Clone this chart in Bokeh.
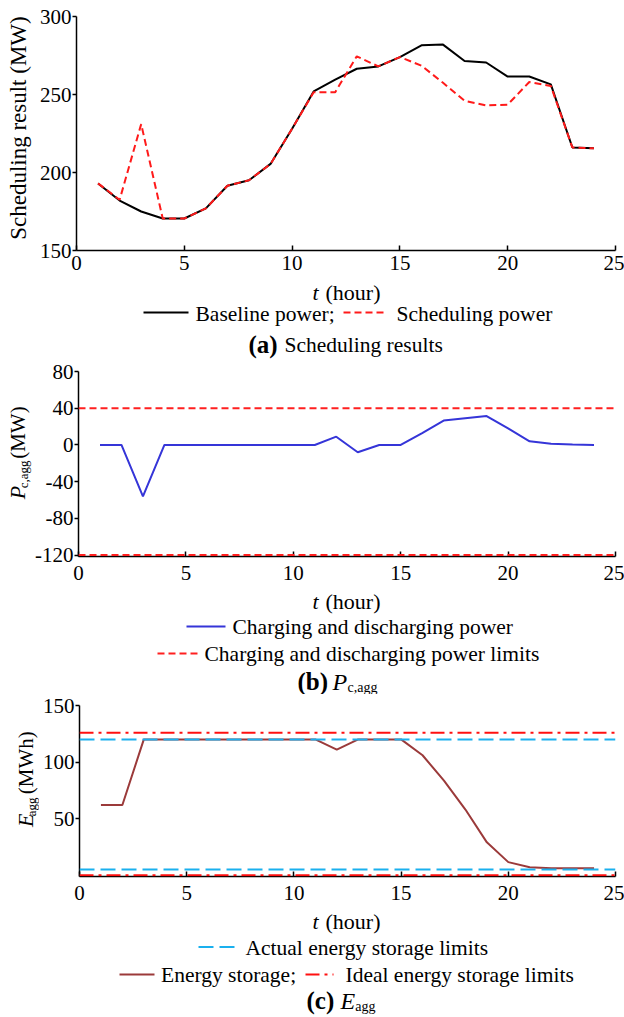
import math
from bokeh.plotting import figure
from bokeh.models import Label, Arrow, Span, FixedTicker, Range1d
from bokeh.layouts import column, row
from bokeh.embed import file_html
from bokeh.resources import INLINE

# ---------------- data ----------------
hours = list(range(1, 25))
baseline_power = [193, 182, 175, 170.5, 170.5, 177, 191.5, 195, 205.5, 228, 252, 259.5,
                  266.5, 268, 274, 281.5, 282, 271.5, 270.5, 261.5, 261.5, 256.5, 216, 215.5]
scheduling_power = [193, 182.5, 231, 170.5, 170.5, 177, 191.5, 195, 205.5, 228, 251.5, 251.5,
                    274.5, 268, 274, 268.5, 257.5, 246, 243, 243.5, 258, 255.5, 216, 215.5]
charging_power = [0, 0, -56, 0, 0, 0, 0, 0, 0, 0, 0, 9,
                  -8, 0, 0, 13, 26.5, 29, 31.5, 18, 4, 1.2, 0.5, 0]
energy_storage = [62, 62, 120, 120, 120, 120, 120, 120, 120, 120, 120, 111,
                  120, 120, 120, 106, 83.5, 58, 29, 11.5, 7, 6, 6, 6]
power_limits = [40, -120]
actual_energy_limits = [5, 120]
ideal_energy_limits = [0, 126]

x_ticks = [0, 5, 10, 15, 20, 25]
y_ticks_a = [150, 200, 250, 300]
y_ticks_b = [-120, -80, -40, 0, 40, 80]
y_ticks_c = [50, 100, 150]

FONT = "Liberation Serif"
W = 624
FRAME_LEFT = 76
R = 9
HALF_PI = math.pi / 2


def make_plot(width, height, left, top, bottom, y_start, y_end, yticks, standoff):
    p = figure(width=width, height=height, title=None, toolbar_location=None,
               output_backend="svg", x_range=Range1d(0, 25), y_range=Range1d(y_start, y_end),
               min_border_left=left, min_border_right=R, min_border_top=top,
               min_border_bottom=bottom)
    p.outline_line_color = None
    p.grid.visible = False
    p.background_fill_color = "white"
    p.border_fill_color = "white"
    xa = p.xaxis[0]
    ya = p.yaxis[0]
    xa.ticker = FixedTicker(ticks=x_ticks)
    ya.ticker = FixedTicker(ticks=yticks)
    for ax in (xa, ya):
        ax.axis_line_color = "black"
        ax.axis_line_width = 1.5
        ax.major_tick_line_color = "black"
        ax.major_tick_line_width = 1.5
        ax.minor_tick_line_color = None
        ax.major_label_text_font = FONT
        ax.major_label_text_font_size = "21px"
        ax.major_label_text_color = "black"
    xa.major_tick_in = 5
    xa.major_tick_out = 0
    xa.major_label_standoff = standoff
    ya.major_tick_in = 0
    ya.major_tick_out = 4
    ya.major_label_standoff = 1
    ya.major_label_overrides = {t: str(t) for t in yticks}
    return p


def make_canvas(width, y_top, y_bottom):
    """Blank canvas whose data space equals page pixels (x from left, y from top)."""
    p = figure(width=width, height=int(round(y_bottom - y_top)), title=None,
               toolbar_location=None, output_backend="svg",
               x_range=Range1d(0, width), y_range=Range1d(y_bottom, y_top),
               x_axis_location=None, y_axis_location=None,
               min_border=0, min_border_left=0, min_border_right=0,
               min_border_top=0, min_border_bottom=0)
    p.outline_line_color = None
    p.grid.visible = False
    p.background_fill_color = "white"
    p.border_fill_color = "white"
    return p


def txt(p, X, Y, text, size="21.5px", style="normal", align="left", angle=0.0):
    p.add_layout(Label(x=X, y=Y, text=text, text_font=FONT, text_font_size=size,
                       text_font_style=style, text_align=align, text_baseline="middle",
                       angle=angle, text_color="black"))


def seg(p, X0, X1, Y, color, width, dash="solid"):
    p.add_layout(Arrow(x_start=X0, y_start=Y, x_end=X1, y_end=Y, start=None, end=None,
                       line_color=color, line_width=width, line_dash=dash))


# ---------------- panel (a) ----------------
wa = 34
pa = make_plot(W - wa, 279, FRAME_LEFT - wa, 16, 29, 150, 300, y_ticks_a, 5)
pa.line(hours, baseline_power, line_color="black", line_width=2)
pa.line(hours, scheduling_power, line_color="#ff1a1a", line_width=2, line_dash="7 4")
la = make_canvas(wa, 0, 279)
txt(la, 18, 133, "Scheduling result (MW)", size="23px", align="center", angle=HALF_PI)
ta = make_canvas(W, 279, 359)
txt(ta, 312, 292, "t", size="22px", style="italic")
txt(ta, 325, 292, "(hour)", size="22px")
seg(ta, 143, 188, 312, "black", 2)
txt(ta, 195, 313, "Baseline power;")
seg(ta, 343, 385, 312, "#ff1a1a", 2, "7 4")
txt(ta, 396, 313, "Scheduling power")
txt(ta, 248, 344, "(a)", size="25px", style="bold")
txt(ta, 284, 344, "Scheduling results")

# ---------------- panel (b) ----------------
wb = 32
pb = make_plot(W - wb, 229, FRAME_LEFT - wb, 12, 32, -121.5, 80, y_ticks_b, 9)
for v in power_limits:
    pb.add_layout(Span(location=v, dimension="width", line_color="#ff2020",
                       line_width=2, line_dash="7 4"))
pb.line(hours, charging_power, line_color="#3535d8", line_width=2)
lb = make_canvas(wb, 359, 588)
txt(lb, 17, 517, "P", size="22px", style="italic", angle=HALF_PI)
txt(lb, 22.5, 503.6, "c,agg", size="13px", angle=HALF_PI)
txt(lb, 17, 467.1, "(MW)", size="21px", angle=HALF_PI)
tb = make_canvas(W, 588, 694)
txt(tb, 312, 601, "t", size="22px", style="italic")
txt(tb, 325, 601, "(hour)", size="22px")
seg(tb, 186, 225, 626, "#3535d8", 2)
txt(tb, 232, 626, "Charging and discharging power")
seg(tb, 157, 198, 653, "#ff2020", 2, "7 4")
txt(tb, 204, 653, "Charging and discharging power limits")
txt(tb, 297, 681, "(b)", size="25px", style="bold")
txt(tb, 332, 681, "P", size="24px", style="italic")
txt(tb, 347, 687, "c,agg", size="14px")

# ---------------- panel (c) ----------------
wc = 39
pc = make_plot(W - wc, 214, FRAME_LEFT - wc, 11, 32, -1.2, 150, y_ticks_c, 9)
for v in actual_energy_limits:
    pc.add_layout(Span(location=v, dimension="width", line_color="#1ab0ee",
                       line_width=2, line_dash="15 6"))
for v in ideal_energy_limits:
    pc.add_layout(Span(location=v, dimension="width", line_color="#ff1010",
                       line_width=2, line_dash="14 5 3 5"))
pc.line(hours, energy_storage, line_color="#9b3a3a", line_width=2)
lc = make_canvas(wc, 694, 908)
txt(lc, 25, 846, "E", size="22px", style="italic", angle=HALF_PI)
txt(lc, 30.5, 832.6, "agg", size="13px", angle=HALF_PI)
txt(lc, 25, 805.1, "(MWh)", size="21px", angle=HALF_PI)
tc = make_canvas(W, 908, 1017)
txt(tc, 312, 921, "t", size="22px", style="italic")
txt(tc, 325, 921, "(hour)", size="22px")
seg(tc, 198, 238, 946.5, "#1ab0ee", 2, "15 6")
txt(tc, 245, 947, "Actual energy storage limits")
seg(tc, 119, 154, 974, "#9b3a3a", 2)
txt(tc, 160.5, 974, "Energy storage;")
seg(tc, 305, 333, 974, "#ff1010", 2, "14 5 3 5")
txt(tc, 345, 974, "Ideal energy storage limits")
txt(tc, 306, 1000, "(c)", size="25px", style="bold")
txt(tc, 340, 1000, "E", size="24px", style="italic")
txt(tc, 354.7, 1006, "agg", size="14px")

layout = column(row(la, pa, spacing=0), ta,
                row(lb, pb, spacing=0), tb,
                row(lc, pc, spacing=0), tc, spacing=0)
open("out.html", "w").write(file_html(layout, INLINE))
